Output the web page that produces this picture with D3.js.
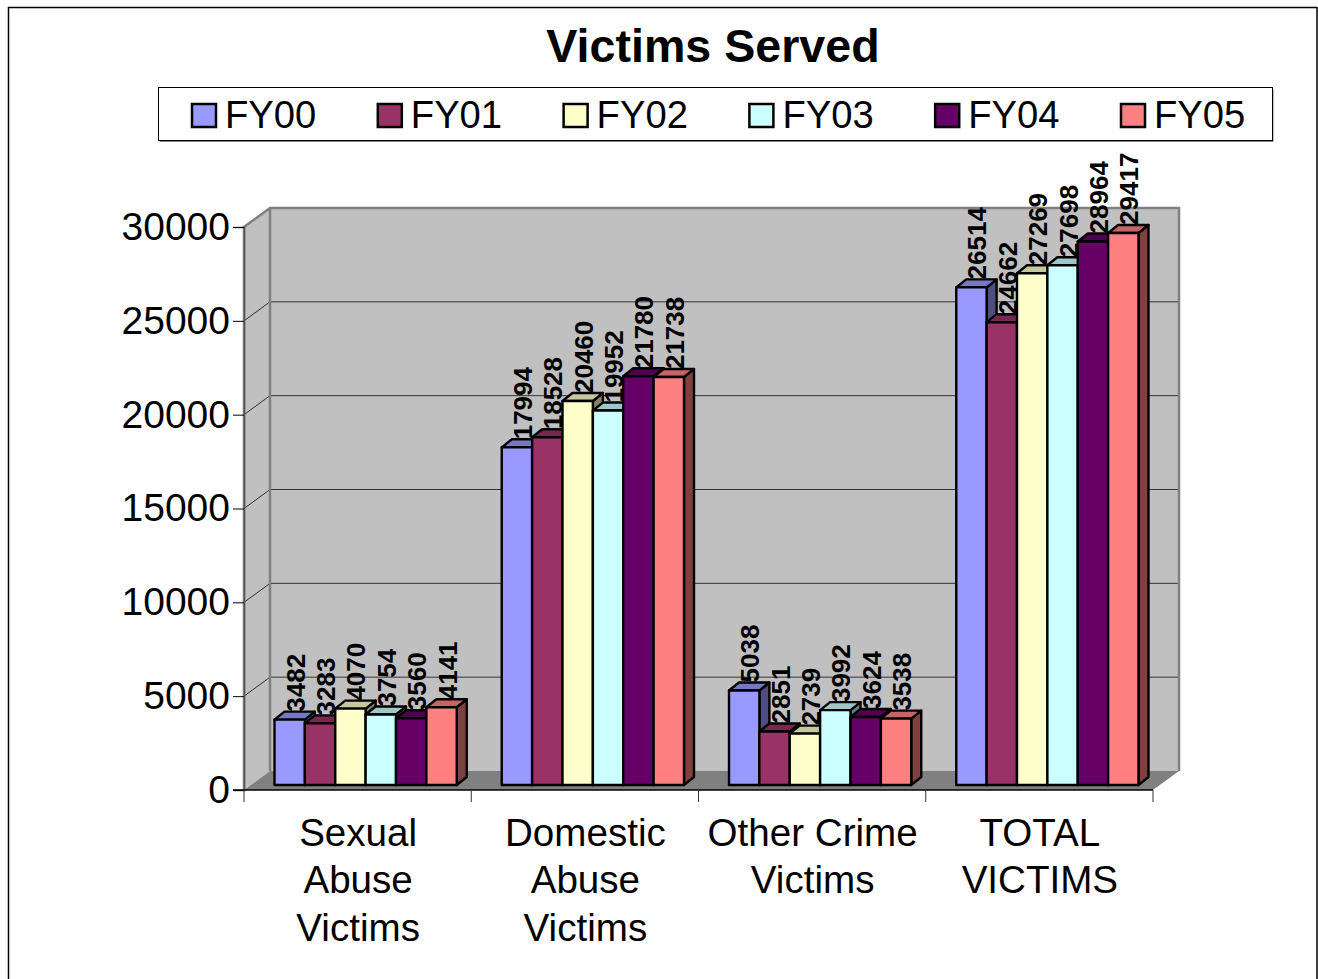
<!DOCTYPE html>
<html>
<head>
<meta charset="utf-8">
<script src="https://cdn.jsdelivr.net/npm/d3@7"></script>
<style>
html, body { margin: 0; padding: 0; background: #fff; overflow: hidden; }
text { font-family: "Liberation Sans", Arial, sans-serif; fill: #000; }
</style>
</head>
<body>
<script>
const categories = [["Sexual", "Abuse", "Victims"], ["Domestic", "Abuse", "Victims"], ["Other Crime", "Victims"], ["TOTAL", "VICTIMS"]]
const seriesNames = ["FY00", "FY01", "FY02", "FY03", "FY04", "FY05"]
const seriesColors = ["#9999ff", "#993366", "#ffffcc", "#ccffff", "#660066", "#ff8080"]
const fy00 = [3482, 17994, 5038, 26514]
const fy01 = [3283, 18528, 2851, 24662]
const fy02 = [4070, 20460, 2739, 27269]
const fy03 = [3754, 19952, 3992, 27698]
const fy04 = [3560, 21780, 3624, 28964]
const fy05 = [4141, 21738, 3538, 29417]
const seriesValues = [fy00, fy01, fy02, fy03, fy04, fy05]
const yTicks = [0, 5000, 10000, 15000, 20000, 25000, 30000]

const width = 1318, height = 979
const x0 = 244, x1 = 1153, y0 = 790, yTop = 227
const wallDx = 26, wallDy = -19     // depth of the whole box
const barDx = 10, barDy = -8        // depth of one bar
const frontDx = 7.5, frontDy = -5   // where bars stand on the floor

let svg = d3.select("body").append("svg")
    .attr("width", width)
    .attr("height", height)
    .style("display", "block")

// outer frame
svg.append("path")
    .attr("d", "M8.5 " + height + "V7.5H1317")
    .attr("fill", "none").attr("stroke", "#000").attr("stroke-width", 1.5)
svg.append("line").attr("x1", 1317).attr("x2", 1317).attr("y1", 7).attr("y2", height)
    .attr("stroke", "#000").attr("stroke-width", 1.5)

svg.append("text")
    .attr("x", 713).attr("y", 62)
    .attr("text-anchor", "middle")
    .attr("font-size", 46.6).attr("font-weight", "bold")
    .text("Victims Served")

// legend
svg.append("rect").attr("x", 159.5).attr("y", 89).attr("width", 1114).attr("height", 53).attr("fill", "#808080")
svg.append("rect").attr("x", 158.5).attr("y", 87.5).attr("width", 1114).attr("height", 53)
    .attr("fill", "#fff").attr("stroke", "#000").attr("stroke-width", 1)

let legendX = d3.scalePoint().domain(seriesNames).range([191, 1120])
let legend = svg.selectAll(".legendItem")
    .data(seriesNames)
    .enter()
    .append("g")
    .attr("class", "legendItem")
    .attr("transform", function (d) { return "translate(" + legendX(d) + ",0)" })
legend.append("rect")
    .attr("x", 1).attr("y", 104).attr("width", 24).attr("height", 23)
    .attr("fill", function (d, i) { return seriesColors[i] })
    .attr("stroke", "#000").attr("stroke-width", 2.5)
legend.append("text")
    .attr("x", 34).attr("y", 128)
    .attr("font-size", 38.2)
    .text(function (d) { return d })

// scales
let y = d3.scaleLinear().domain([0, 30000]).range([y0, yTop])
let xCat = d3.scaleBand().domain(d3.range(categories.length)).range([x0, x1])

// walls and floor
let wall = svg.append("g")
wall.append("path")
    .attr("d", d3.line()([[x0, y0], [x0 + wallDx, y0 + wallDy], [x0 + wallDx, yTop + wallDy], [x0, yTop]]) + "Z")
    .attr("fill", "#c0c0c0")
wall.append("rect")
    .attr("x", x0 + wallDx).attr("y", yTop + wallDy)
    .attr("width", x1 - x0).attr("height", y0 - yTop)
    .attr("fill", "#c0c0c0")
wall.append("path")
    .attr("d", d3.line()([[x0, y0], [x1, y0], [x1 + wallDx, y0 + wallDy], [x0 + wallDx, y0 + wallDy]]) + "Z")
    .attr("fill", "#808080")

// gridlines run along the side wall and the back wall
wall.selectAll(".grid")
    .data(yTicks.slice(1, -1))
    .enter()
    .append("path")
    .attr("class", "grid")
    .attr("d", function (d) {
        return d3.line()([[x0, y(d)], [x0 + wallDx, y(d) + wallDy], [x1 + wallDx, y(d) + wallDy]])
    })
    .attr("fill", "none").attr("stroke", "#333").attr("stroke-width", 1)

wall.append("path")
    .attr("d", d3.line()([[x0, y0], [x0, yTop], [x0 + wallDx, yTop + wallDy], [x1 + wallDx, yTop + wallDy], [x1 + wallDx, y0 + wallDy]]))
    .attr("fill", "none").attr("stroke", "#808080").attr("stroke-width", 2.5)
wall.append("line")
    .attr("x1", x0 + wallDx).attr("x2", x0 + wallDx)
    .attr("y1", yTop + wallDy).attr("y2", y0 + wallDy)
    .attr("stroke", "#808080").attr("stroke-width", 2.5)

// axes
let yAxis = svg.append("g")
    .attr("transform", "translate(" + x0 + ",0)")
    .call(d3.axisLeft(y).tickValues(yTicks).tickSize(11).tickPadding(3).tickFormat(d3.format("d")))
yAxis.select(".domain").attr("stroke", "#555").attr("stroke-width", 1.5)
yAxis.selectAll("text").attr("font-size", 39).style("font-family", '"Liberation Sans", Arial, sans-serif')

let xAxis = svg.append("g")
    .attr("transform", "translate(0," + y0 + ")")
xAxis.append("line").attr("x1", x0 - 11).attr("x2", x1).attr("stroke", "#000").attr("stroke-width", 1.5)
xAxis.selectAll(".catTick")
    .data(d3.range(categories.length + 1))
    .enter()
    .append("line")
    .attr("class", "catTick")
    .attr("x1", function (d) { return x0 + d * xCat.step() })
    .attr("x2", function (d) { return x0 + d * xCat.step() })
    .attr("y1", 0).attr("y2", 12)
    .attr("stroke", "#333").attr("stroke-width", 1)

let catLabels = svg.selectAll(".catLabel")
    .data(categories)
    .enter()
    .append("text")
    .attr("class", "catLabel")
    .attr("text-anchor", "middle")
    .attr("font-size", 38.6)
catLabels.selectAll("tspan")
    .data(function (d, i) { return d.map(function (s) { return { s: s, i: i } }) })
    .enter()
    .append("tspan")
    .attr("x", function (d) { return xCat(d.i) + xCat.bandwidth() / 2 + 0.5 })
    .attr("y", function (d, j) { return 846 + j * 47.4 })
    .text(function (d) { return d.s })

// bars
let xBar = d3.scaleBand().domain(seriesNames).range([23, xCat.step() - 22])

function shade(color, k) {
    let c = d3.rgb(color)
    return d3.rgb(c.r * k, c.g * k, c.b * k).formatHex()
}

let flat = []
seriesNames.forEach(function (name, s) {
    seriesValues[s].forEach(function (v, c) {
        flat.push({ name: name, s: s, c: c, value: v, color: seriesColors[s] })
    })
})

function barX(d) { return xCat(d.c) + frontDx + xBar(d.name) }
let barBase = y0 + frontDy
function barTop(d) { return y(d.value) + frontDy }

let bar = svg.selectAll(".bar")
    .data(flat)
    .enter()
    .append("g")
    .attr("class", "bar")
bar.append("path")   // side
    .attr("d", function (d) {
        let r = barX(d) + xBar.bandwidth()
        return d3.line()([[r, barTop(d)], [r + barDx, barTop(d) + barDy], [r + barDx, barBase + barDy], [r, barBase]]) + "Z"
    })
    .attr("fill", function (d) { return shade(d.color, 0.5) })
bar.append("path")   // top
    .attr("d", function (d) {
        let l = barX(d), r = l + xBar.bandwidth(), t = barTop(d)
        return d3.line()([[l, t], [l + barDx, t + barDy], [r + barDx, t + barDy], [r, t]]) + "Z"
    })
    .attr("fill", function (d) { return shade(d.color, 0.78) })
bar.append("rect")   // front
    .attr("x", barX)
    .attr("y", barTop)
    .attr("width", xBar.bandwidth())
    .attr("height", function (d) { return barBase - barTop(d) })
    .attr("fill", function (d) { return d.color })
bar.selectAll("path, rect")
    .attr("stroke", "#000").attr("stroke-width", 2.4).attr("stroke-linejoin", "round")

// value labels go on top of all the bars
svg.selectAll(".valueLabel")
    .data(flat)
    .enter()
    .append("text")
    .attr("class", "valueLabel")
    .attr("transform", function (d) {
        return "translate(" + (barX(d) + xBar.bandwidth() / 2 + 15) + "," + (barTop(d) - 8) + ") rotate(-90)"
    })
    .attr("font-size", 26).attr("font-weight", "bold")
    .text(function (d) { return d.value })
</script>
</body>
</html>
